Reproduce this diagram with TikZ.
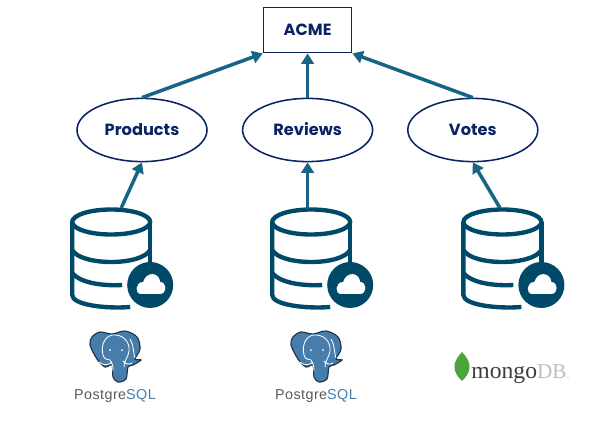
\documentclass[tikz,border=0pt]{standalone}
\usepackage{fontspec}
\setmainfont{Poppins}
\newfontfamily\logosans[LetterSpace=3]{Liberation Sans}
\newfontfamily\logoserif{Liberation Serif}
\usepackage{xcolor}
\definecolor{acnavy}{RGB}{10,35,100}
\definecolor{acarrow}{RGB}{24,100,132}
\definecolor{acdb}{RGB}{0,73,105}
\definecolor{pgblue}{RGB}{70,125,170}
\definecolor{pgdark}{RGB}{30,50,70}
\definecolor{pgtext}{RGB}{90,90,90}
\definecolor{mggreen}{RGB}{75,165,60}
\definecolor{mgdark}{RGB}{65,60,55}
\definecolor{mggray}{RGB}{190,190,185}
\usetikzlibrary{arrows.meta,positioning,shapes.geometric,calc}

\tikzset{
  service/.style={draw=acnavy,line width=1.1pt,ellipse,minimum width=3.25cm,minimum height=1.58cm,
    inner sep=0pt,text height=8.5pt,text depth=0pt,font=\bfseries\fontsize{11.5}{12}\selectfont,text=acnavy},
  gateway/.style={draw=acnavy,line width=1.2pt,minimum width=2.2cm,minimum height=1.13cm,
    inner sep=0pt,font=\bfseries\fontsize{11.5}{12}\selectfont,text=acnavy},
  arr/.style={-{Triangle[length=2.6mm,width=3.1mm]},line width=2.5pt,acarrow},
  dbicon/.pic={
    \begin{scope}[scale=.025,acdb,line width=3.1pt]
      \draw (0,0) ellipse (39 and 12.5);
      \draw (-39,0) -- (-39,-73) .. controls (-39,-83) and (-5,-87) .. (19,-85);
      \draw (39,0) -- (39,-42);
      \draw (-39,-28) .. controls (-30,-44) and (30,-44) .. (39,-28);
      \draw (-39,-51) .. controls (-30,-62) and (-5,-64) .. (11,-63);
      \fill (39,-63) circle (23);
      \fill[white] (30,-72) -- (49,-72) .. controls (56,-72) and (56,-60) .. (49,-60)
        .. controls (48,-50) and (35,-49) .. (32,-60)
        .. controls (24,-60) and (23,-72) .. (30,-72) -- cycle;
    \end{scope}
  },
  pglogo/.pic={
    \begin{scope}[scale=.025]
      \draw[fill=pgblue,draw=pgdark,line width=.8pt] plot[smooth cycle,tension=.55] coordinates
        {(-23,20) (-15,25) (-3,23) (10,26) (22,20) (25,8) (20,-2) (26,-3) (18,-8) (13,-10)
         (11,-22) (3,-25) (-2,-20) (-3,-8) (-10,-10) (-18,-2) (-25,12)};
      \draw[white,line width=.6pt] (-12,2) .. controls (-15,14) and (-8,23) .. (0,22)
        .. controls (10,22) and (17,12) .. (13,2)
        .. controls (12,-2) and (9,-4) .. (9,-10)
        (-12,2) .. controls (-11,-3) and (-7,-2) .. (-5,-3)
        .. controls (-3,-6) and (-2,-8) .. (-2,-14)
        (-16,-5) .. controls (-12,-9) and (-6,-8) .. (-3,-5)
        (17,-6) .. controls (14,-8) and (10,-7) .. (8,-4)
        (15,18) .. controls (19,12) and (18,4) .. (20,-1);
      \fill[white] (-5,7) circle (1) (7,7) circle (1);
      \node[font=\logosans\fontsize{10.2}{11}\selectfont,text=pgtext,inner sep=0pt] at (0,-39)
        {Postgre\textcolor{pgblue}{SQL}};
    \end{scope}
  }
}

\begin{document}
\begin{tikzpicture}
  \useasboundingbox (0,0) rectangle (15.175,10.525);

  \node[gateway] (acme) at (7.69,9.775) {ACME};

  \node[service] (products) at (3.55,7.275) {Products};
  \node[service] (reviews) at (7.69,7.275) {Reviews};
  \node[service] (votes) at (11.82,7.275) {Votes};

  % Stores
  \foreach \x in {2.78, 7.78, 12.56} {
    \pic at (\x,4.975) {dbicon};
  }
  \coordinate (dbA) at (3.03,5.325);
  \coordinate (dbB) at (7.69,5.3);
  \coordinate (dbC) at (12.5,5.325);

  \draw[arr] (products.north) -- (acme.south west);
  \draw[arr] (reviews.north) -- (acme.south);
  \draw[arr] (votes.north) -- (acme.south east);
  \draw[arr] (dbA) -- (products.south);
  \draw[arr] (dbB) -- (reviews.south);
  \draw[arr] (dbC) -- (votes.south);

  % Logos
  \pic at (2.875,1.6) {pglogo};
  \pic at (7.9,1.6) {pglogo};

  \fill[mggreen] (11.55,1.0) .. controls (11.33,1.2) and (11.27,1.45) .. (11.55,1.72)
    .. controls (11.83,1.45) and (11.77,1.2) .. (11.55,1.0);
  \node[anchor=base west,inner sep=0pt,font=\logoserif\fontsize{16.8}{18}\selectfont,text=mgdark]
    (mongo) at (11.78,1.07) {mongo\textcolor{mggray}{\fontsize{15}{18}\selectfont DB}\textcolor{mggray!60}{\fontsize{10}{18}\selectfont .}};
\end{tikzpicture}
\end{document}
